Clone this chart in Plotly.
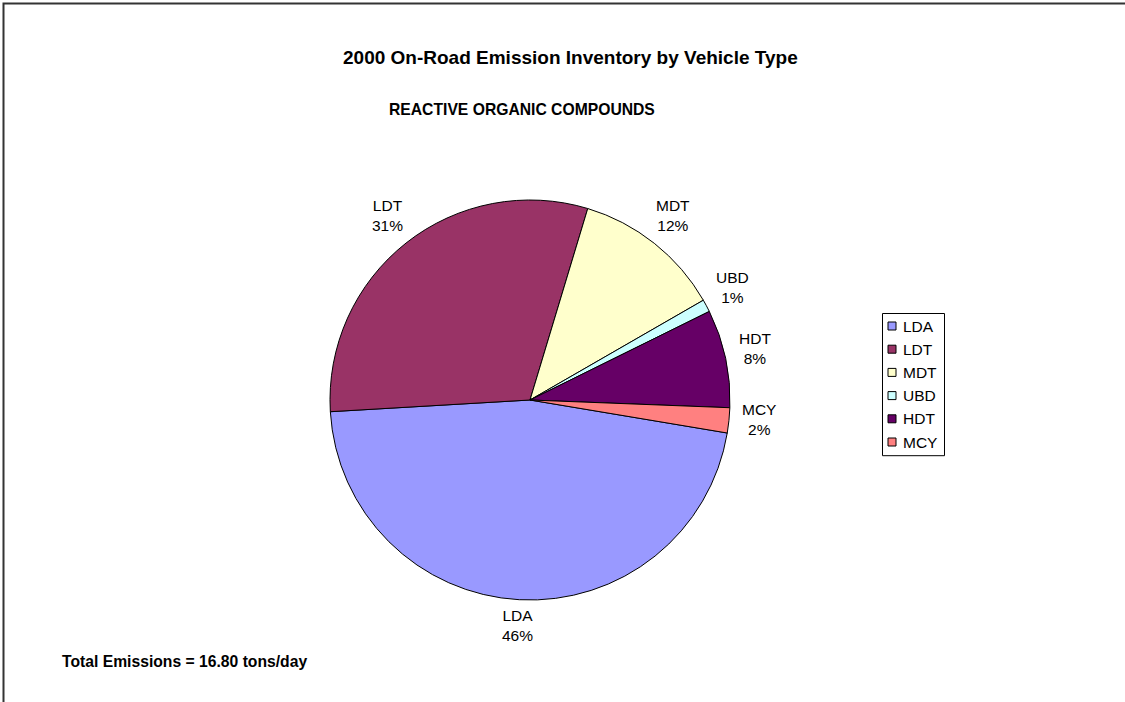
import math
import plotly.graph_objects as go

# 2000 on-road ROG emissions by vehicle type (tons/day)
vehicle_types = ["LDA", "LDT", "MDT", "UBD", "HDT", "MCY"]
emissions = [7.80, 5.14, 2.02, 0.17, 1.33, 0.34]
slice_colors = ["#9999FF", "#993366", "#FFFFCC", "#CCFFFF", "#660066", "#FF8080"]
total_emissions = 16.80

W, H = 1125, 702
FONT = "Arial, Liberation Sans, sans-serif"
TEXT_SIZE = 15.5

# pie placement (pixels from top-left) and slice start angle
PIE_LEFT, PIE_TOP, PIE_SIZE = 330, 200, 400
ROTATION = 99.5
LABEL_RADIUS = 1.15  # label centres sit outside the rim, as a fraction of the radius
LABEL_LIFT = 4       # small upward nudge of the label block, px

dom_x = [PIE_LEFT / W, (PIE_LEFT + PIE_SIZE) / W]
dom_y = [(H - PIE_TOP - PIE_SIZE) / H, (H - PIE_TOP) / H]

fig = go.Figure(
    go.Pie(
        labels=vehicle_types,
        values=emissions,
        sort=False,
        direction="clockwise",
        rotation=ROTATION,
        marker=dict(colors=slice_colors, line=dict(color="black", width=1)),
        textinfo="none",
        domain=dict(x=dom_x, y=dom_y),
        hoverinfo="label+value+percent",
        showlegend=False,
    )
)

# category labels with percentages, placed along each slice's mid-angle
annotations = []
total = sum(emissions)
cx = (dom_x[0] + dom_x[1]) / 2
cy = (dom_y[0] + dom_y[1]) / 2
r_px = PIE_SIZE / 2 * LABEL_RADIUS
cum = 0.0
for name, v in zip(vehicle_types, emissions):
    mid = math.radians(ROTATION + 360 * (cum + v / 2) / total)
    cum += v
    annotations.append(dict(
        text=f"{name}<br>{v / total:.0%}",
        x=cx + r_px * math.sin(mid) / W,
        y=cy + (r_px * math.cos(mid) + LABEL_LIFT) / H,
        xref="paper", yref="paper", xanchor="center", yanchor="middle",
        showarrow=False, font=dict(family=FONT, size=TEXT_SIZE, color="black"),
    ))

# legend box with colour swatches
LEG_X, LEG_Y, LEG_W, LEG_STEP = 882.5, 313.5, 62, 23.2
legend_shapes = [dict(
    type="rect", xref="paper", yref="paper",
    x0=LEG_X / W, x1=(LEG_X + LEG_W) / W,
    y0=(H - LEG_Y) / H, y1=(H - LEG_Y - LEG_STEP * len(vehicle_types) - 3) / H,
    line=dict(color="black", width=1), fillcolor="white", layer="below",
)]
for i, (name, color) in enumerate(zip(vehicle_types, slice_colors)):
    yc = LEG_Y + 12.5 + i * LEG_STEP
    legend_shapes.append(dict(
        type="rect", xref="paper", yref="paper",
        x0=(LEG_X + 5.5) / W, x1=(LEG_X + 13.5) / W,
        y0=(H - yc - 4) / H, y1=(H - yc + 4) / H,
        line=dict(color="black", width=1), fillcolor=color,
    ))
    annotations.append(dict(
        text=name, x=(LEG_X + 18) / W, y=(H - yc) / H,
        xref="paper", yref="paper", xanchor="left", yanchor="middle",
        showarrow=False, font=dict(family=FONT, size=TEXT_SIZE, color="black"),
    ))

annotations += [
    dict(
        text="<b>2000 On-Road Emission Inventory by Vehicle Type</b>",
        x=570.5 / W, y=(H - 58) / H, xref="paper", yref="paper",
        xanchor="center", yanchor="middle",
        showarrow=False, font=dict(family=FONT, size=19, color="black"),
    ),
    dict(
        text="<b>REACTIVE ORGANIC COMPOUNDS</b>",
        x=522 / W, y=(H - 110) / H, xref="paper", yref="paper",
        xanchor="center", yanchor="middle",
        showarrow=False, font=dict(family=FONT, size=15.7, color="black"),
    ),
    dict(
        text=f"<b>Total Emissions = {total_emissions:.2f} tons/day</b>",
        x=60 / W, y=(H - 661) / H, xref="paper", yref="paper",
        xanchor="left", yanchor="middle", showarrow=False,
        font=dict(family=FONT, size=15.7, color="black"),
    ),
]

# chart-area frame: top and left edges drawn as one open path
fx0, fy0 = 3.5 / W, 1 - 3.5 / H
frame_shapes = [dict(
    type="path", xref="paper", yref="paper",
    path=f"M {W / W + 0.01},{fy0} L {fx0},{fy0} L {fx0},-0.01",
    line=dict(color="#333333", width=2),
)]

fig.update_layout(
    width=W,
    height=H,
    margin=dict(l=0, r=0, t=0, b=0),
    paper_bgcolor="white",
    plot_bgcolor="white",
    font=dict(family=FONT, color="black"),
    showlegend=False,
    annotations=annotations,
    shapes=frame_shapes + legend_shapes,
)

fig.write_html("out.html", config={"displayModeBar": False})
